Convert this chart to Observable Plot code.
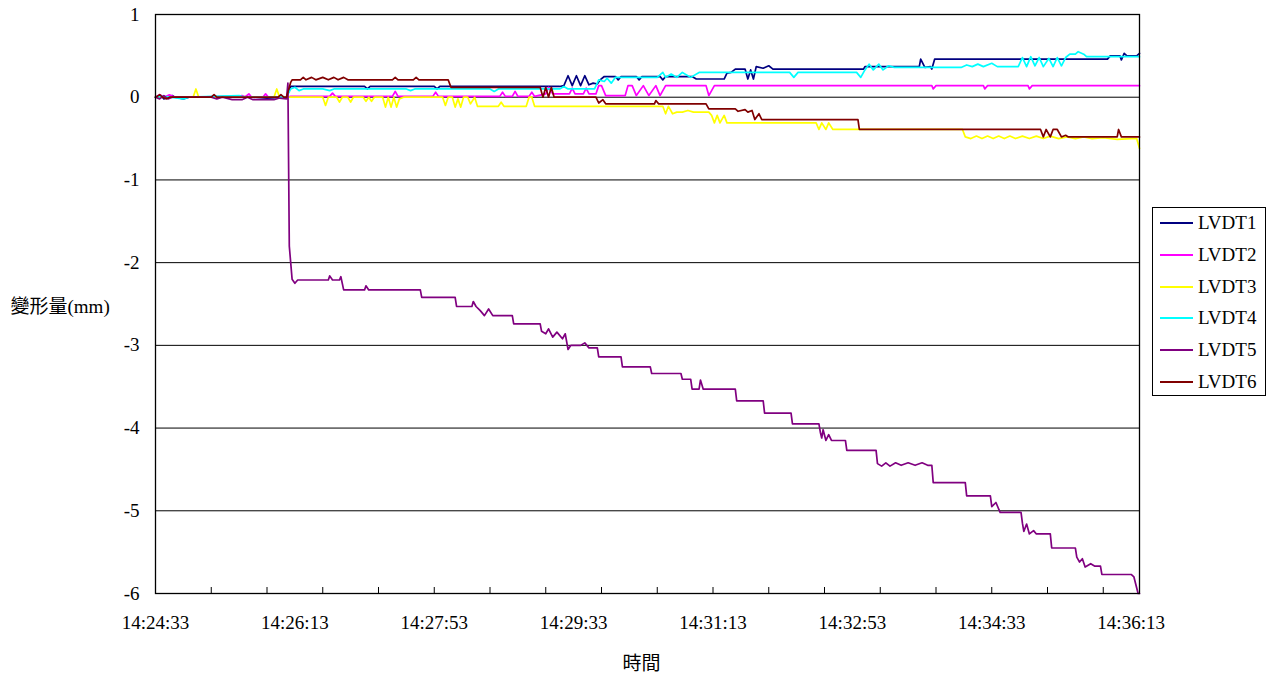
<!DOCTYPE html>
<html>
<head>
<meta charset="utf-8">
<script src="https://cdn.jsdelivr.net/npm/d3@7"></script>
<script src="https://cdn.jsdelivr.net/npm/@observablehq/plot@0.6"></script>
<style>
  html, body { margin: 0; padding: 0; background: #fff; }
  #wrap { position: relative; width: 1277px; height: 681px; }
  #legend { position: absolute; left: 1152px; top: 207px; width: 114px; height: 189px;
    border: 1px solid #000; background: #fff; box-sizing: border-box;
    font-family: "Liberation Serif", Tinos, Times, "DejaVu Serif", serif; font-size: 19px; color: #000; }
  .item { position: absolute; left: 0; height: 20px; display: flex; align-items: center; }
  .sw { width: 33px; height: 0; border-top: 2px solid; margin-left: 7px; margin-right: 5px; }
</style>
</head>
<body>
<div id="wrap"><div id="chart"></div><div id="legend"></div></div>
<script>
// Series names and colours
const seriesNames = ["LVDT1", "LVDT2", "LVDT3", "LVDT4", "LVDT5", "LVDT6"];
const seriesColors = ["#000080", "#FF00FF", "#FFFF00", "#00FFFF", "#800080", "#800000"];

// Time axis: seconds after 14:24:33
const xEnd = 706;
const xLabelSecs = [0, 100, 200, 300, 400, 500, 600, 700];
const xTickLabels = ["14:24:33", "14:26:13", "14:27:53", "14:29:33", "14:31:13", "14:32:53", "14:34:33", "14:36:13"];
const xMinorTicks = [40, 80, 120, 160, 200, 240, 280, 320, 360, 400, 440, 480, 520, 560, 600, 640, 680];
const yTicks = [1, 0, -1, -2, -3, -4, -5, -6];

// [seconds, mm] readings
const lvdt1 = [[0,0],[4,0.02],[6,-0.02],[12,0.02],[14,0],[20,-0.02],[24,0],[60,0.01],[80,-0.01],[94,0],[97,0.13],[150,0.13],[152,0.1],[154,0.13],[200,0.13],[202,0.1],[204,0.13],[290,0.13],[293,0.14],[296,0.26],[299,0.14],[302,0.26],[305,0.14],[308,0.26],[311,0.15],[314,0.17],[317,0.16],[319,0.21],[322,0.25],[330,0.25],[332,0.21],[334,0.25],[345,0.25],[347,0.21],[349,0.25],[362,0.25],[364,0.21],[366,0.25],[385,0.25],[388,0.22],[408,0.22],[410,0.29],[413,0.3],[416,0.34],[423,0.34],[425,0.22],[427,0.33],[429,0.22],[431,0.37],[436,0.35],[440,0.38],[443,0.34],[508,0.34],[509,0.37],[548,0.37],[549,0.46],[552,0.36],[556,0.37],[557,0.34],[559,0.46],[683,0.46],[685,0.5],[692,0.5],[693,0.45],[695,0.53],[697,0.5],[704,0.5],[706,0.53]];
const lvdt2 = [[0,0],[3,0.03],[6,0],[10,0.03],[14,0],[60,0],[62,0.02],[64,0],[67,0.04],[69,0],[77,0],[79,0.04],[81,0],[94,0],[97,0.01],[125,0.01],[127,0.05],[129,0.01],[170,0.01],[172,0.07],[174,0.01],[199,0.01],[201,0.06],[203,0.01],[247,0.01],[249,0.06],[251,0.01],[256,0.01],[258,0.07],[260,0.01],[268,0.01],[270,0.06],[272,0.01],[280,0.04],[282,0.12],[285,0.04],[297,0.04],[299,0.11],[301,0.04],[307,0.04],[309,0.11],[311,0.04],[316,0.04],[318,0.14],[320,0.14],[323,0.02],[337,0.02],[339,0.14],[342,0.14],[345,0.02],[350,0.14],[354,0.02],[359,0.14],[362,0.02],[366,0.14],[395,0.14],[397,0.02],[401,0.14],[557,0.14],[558,0.1],[560,0.14],[594,0.14],[595,0.1],[597,0.14],[626,0.14],[627,0.1],[629,0.14],[706,0.14]];
const lvdt3 = [[0,0],[27,0],[29,0.1],[31,0],[85,0],[87,0.1],[89,0],[96,0],[120,0],[122,-0.1],[124,0],[130,0],[132,-0.06],[134,0],[138,0],[140,-0.06],[142,0],[149,0],[151,-0.05],[153,0],[155,-0.05],[157,0],[163,0],[165,-0.12],[167,0],[169,-0.12],[171,0],[173,-0.12],[175,-0.02],[178,0],[206,0],[208,-0.1],[210,0],[213,0],[215,-0.12],[217,-0.02],[219,-0.12],[221,0],[224,0],[226,-0.08],[229,0],[231,-0.11],[246,-0.11],[248,-0.06],[250,-0.11],[266,-0.11],[268,0],[270,0],[272,-0.11],[364,-0.11],[366,-0.2],[368,-0.11],[371,-0.2],[374,-0.18],[378,-0.18],[382,-0.16],[386,-0.18],[397,-0.18],[399,-0.22],[401,-0.31],[403,-0.22],[405,-0.31],[408,-0.22],[410,-0.31],[474,-0.31],[476,-0.39],[478,-0.31],[481,-0.39],[483,-0.31],[486,-0.39],[579,-0.39],[581,-0.48],[585,-0.5],[589,-0.47],[593,-0.5],[597,-0.47],[601,-0.5],[605,-0.47],[609,-0.5],[613,-0.47],[617,-0.5],[622,-0.47],[627,-0.5],[632,-0.47],[637,-0.5],[642,-0.47],[648,-0.5],[654,-0.48],[660,-0.5],[666,-0.48],[672,-0.5],[680,-0.49],[690,-0.51],[700,-0.5],[704,-0.5],[706,-0.62]];
const lvdt4 = [[0,0],[5,0.01],[10,0],[20,-0.02],[24,0],[60,0.02],[64,0],[94,0],[97,0.1],[100,0.12],[103,0.08],[106,0.1],[120,0.1],[125,0.08],[128,0.1],[180,0.1],[183,0.08],[186,0.1],[240,0.1],[243,0.07],[246,0.1],[290,0.1],[293,0.13],[296,0.1],[315,0.1],[318,0.21],[322,0.19],[324,0.23],[327,0.17],[330,0.24],[360,0.24],[364,0.3],[366,0.24],[370,0.28],[374,0.24],[378,0.3],[384,0.24],[390,0.3],[455,0.3],[458,0.24],[461,0.3],[503,0.3],[506,0.24],[509,0.33],[512,0.4],[515,0.33],[519,0.4],[522,0.33],[526,0.38],[530,0.36],[578,0.36],[582,0.39],[586,0.37],[590,0.4],[594,0.37],[600,0.41],[604,0.37],[619,0.37],[622,0.48],[625,0.37],[628,0.49],[631,0.38],[634,0.48],[637,0.37],[641,0.47],[644,0.37],[647,0.48],[650,0.38],[653,0.48],[656,0.52],[660,0.52],[662,0.55],[666,0.52],[668,0.49],[706,0.49]];
const lvdt5 = [[0,0],[3,-0.02],[6,0.02],[9,-0.02],[12,0],[40,0],[44,-0.02],[48,0],[55,-0.03],[62,-0.03],[66,0],[70,-0.03],[85,-0.03],[89,-0.01],[94,-0.02],[95,0.17],[96,-1.8],[98,-2.2],[100,-2.25],[102,-2.21],[124,-2.21],[125,-2.16],[127,-2.21],[132,-2.21],[133,-2.17],[135,-2.33],[150,-2.33],[151,-2.28],[153,-2.33],[190,-2.33],[191,-2.42],[215,-2.42],[216,-2.53],[227,-2.53],[228,-2.47],[230,-2.53],[233,-2.58],[236,-2.64],[239,-2.56],[242,-2.64],[256,-2.64],[257,-2.74],[276,-2.74],[277,-2.83],[280,-2.86],[282,-2.8],[285,-2.9],[288,-2.84],[292,-2.92],[294,-2.86],[296,-3.05],[298,-3.0],[305,-3.0],[308,-2.97],[311,-3.03],[317,-3.03],[318,-3.14],[334,-3.14],[335,-3.26],[355,-3.26],[356,-3.34],[377,-3.34],[378,-3.41],[384,-3.41],[385,-3.53],[390,-3.53],[391,-3.42],[393,-3.53],[416,-3.53],[417,-3.67],[436,-3.67],[437,-3.82],[456,-3.82],[457,-3.95],[476,-3.95],[477,-4.05],[478,-4.12],[479,-4.02],[481,-4.15],[483,-4.08],[485,-4.15],[495,-4.15],[496,-4.27],[517,-4.27],[518,-4.43],[521,-4.46],[524,-4.42],[527,-4.46],[531,-4.42],[535,-4.45],[540,-4.42],[545,-4.45],[550,-4.42],[554,-4.45],[557,-4.45],[558,-4.66],[581,-4.66],[582,-4.82],[599,-4.82],[600,-4.95],[603,-4.9],[606,-5.02],[621,-5.02],[622,-5.15],[623,-5.25],[625,-5.16],[627,-5.28],[630,-5.24],[632,-5.28],[642,-5.28],[643,-5.45],[660,-5.45],[661,-5.56],[663,-5.62],[665,-5.58],[667,-5.68],[671,-5.64],[674,-5.67],[678,-5.67],[679,-5.77],[700,-5.77],[702,-5.8],[705,-6.0],[706,-6.0]];
const lvdt6 = [[0,0],[3,0.03],[5,0],[8,-0.02],[10,0],[40,0],[42,0.03],[44,0],[88,0],[90,0.03],[92,0],[94,0],[97,0.18],[98,0.21],[104,0.21],[106,0.24],[108,0.21],[112,0.24],[115,0.21],[120,0.24],[124,0.21],[128,0.24],[131,0.21],[135,0.24],[138,0.21],[170,0.21],[172,0.24],[174,0.21],[185,0.21],[187,0.24],[189,0.21],[210,0.21],[212,0.12],[276,0.12],[278,0.0],[280,0.12],[282,0.0],[284,0.12],[286,0.0],[316,0.0],[318,-0.07],[321,-0.03],[323,-0.08],[358,-0.08],[359,-0.04],[361,-0.08],[395,-0.08],[397,-0.14],[416,-0.14],[418,-0.17],[423,-0.15],[425,-0.18],[428,-0.16],[430,-0.27],[433,-0.2],[435,-0.27],[504,-0.27],[505,-0.39],[635,-0.39],[637,-0.48],[639,-0.39],[642,-0.48],[644,-0.39],[647,-0.39],[650,-0.48],[653,-0.46],[655,-0.48],[690,-0.48],[691,-0.39],[693,-0.48],[706,-0.48]];

const seriesData = [lvdt1, lvdt2, lvdt3, lvdt4, lvdt5, lvdt6];
const rows = seriesData.flatMap((s, i) => s.map(([t, v]) => ({name: seriesNames[i], t, v})));

const serif = "\"Liberation Serif\", Tinos, Times, \"DejaVu Serif\", serif";
const cjk = "\"Noto Sans CJK TC\", \"Liberation Serif\", sans-serif";
const mixed = "\"Liberation Serif\", Tinos, Times, \"Noto Sans CJK TC\", serif";

const chart = Plot.plot({
  width: 1277,
  height: 681,
  marginLeft: 155,
  marginRight: 138,
  marginTop: 14,
  marginBottom: 88,
  style: {fontFamily: serif, fontSize: "19px", color: "#000", background: "#fff", overflow: "visible"},
  x: {domain: [0, xEnd]},
  y: {domain: [-6, 1]},
  color: {domain: seriesNames, range: seriesColors},
  marks: [
    Plot.gridY(yTicks, {stroke: "#000", strokeOpacity: 1, strokeWidth: 1}),
    Plot.line(rows, {x: "t", y: "v", z: "name", stroke: "name", strokeWidth: 1.7, curve: "linear"}),
    Plot.frame({stroke: "#000", strokeWidth: 1.3}),
    Plot.tickX(xMinorTicks, {x: d => d, insetTop: 573, stroke: "#000", strokeWidth: 1}),
    Plot.axisY(yTicks, {tickSize: 0, tickPadding: 16, tickFormat: d => String(d), fontSize: 19, fontFamily: serif, label: null}),
    Plot.axisX(xLabelSecs, {tickSize: 0, tickPadding: 22, tickFormat: d => xTickLabels[xLabelSecs.indexOf(d)], fontSize: 19, fontFamily: serif, label: null}),
    Plot.text(["時間"], {frameAnchor: "bottom", dy: 70, dx: -6, fontSize: 19, fontFamily: cjk, lineAnchor: "middle"}),
    Plot.text(["變形量(mm)"], {frameAnchor: "left", dx: -145, dy: 3, textAnchor: "start", fontSize: 19, fontFamily: mixed, lineAnchor: "middle"})
  ]
});
document.getElementById("chart").appendChild(chart);

// Legend
const legend = document.getElementById("legend");
const legendTops = [5, 37, 69, 100, 132, 164];
seriesNames.forEach((n, i) => {
  const it = document.createElement("div");
  it.className = "item";
  it.style.top = (legendTops[i]) + "px";
  const sw = document.createElement("span");
  sw.className = "sw";
  sw.style.borderTopColor = seriesColors[i];
  const tx = document.createElement("span");
  tx.textContent = n;
  it.appendChild(sw);
  it.appendChild(tx);
  legend.appendChild(it);
});
</script>
</body>
</html>
